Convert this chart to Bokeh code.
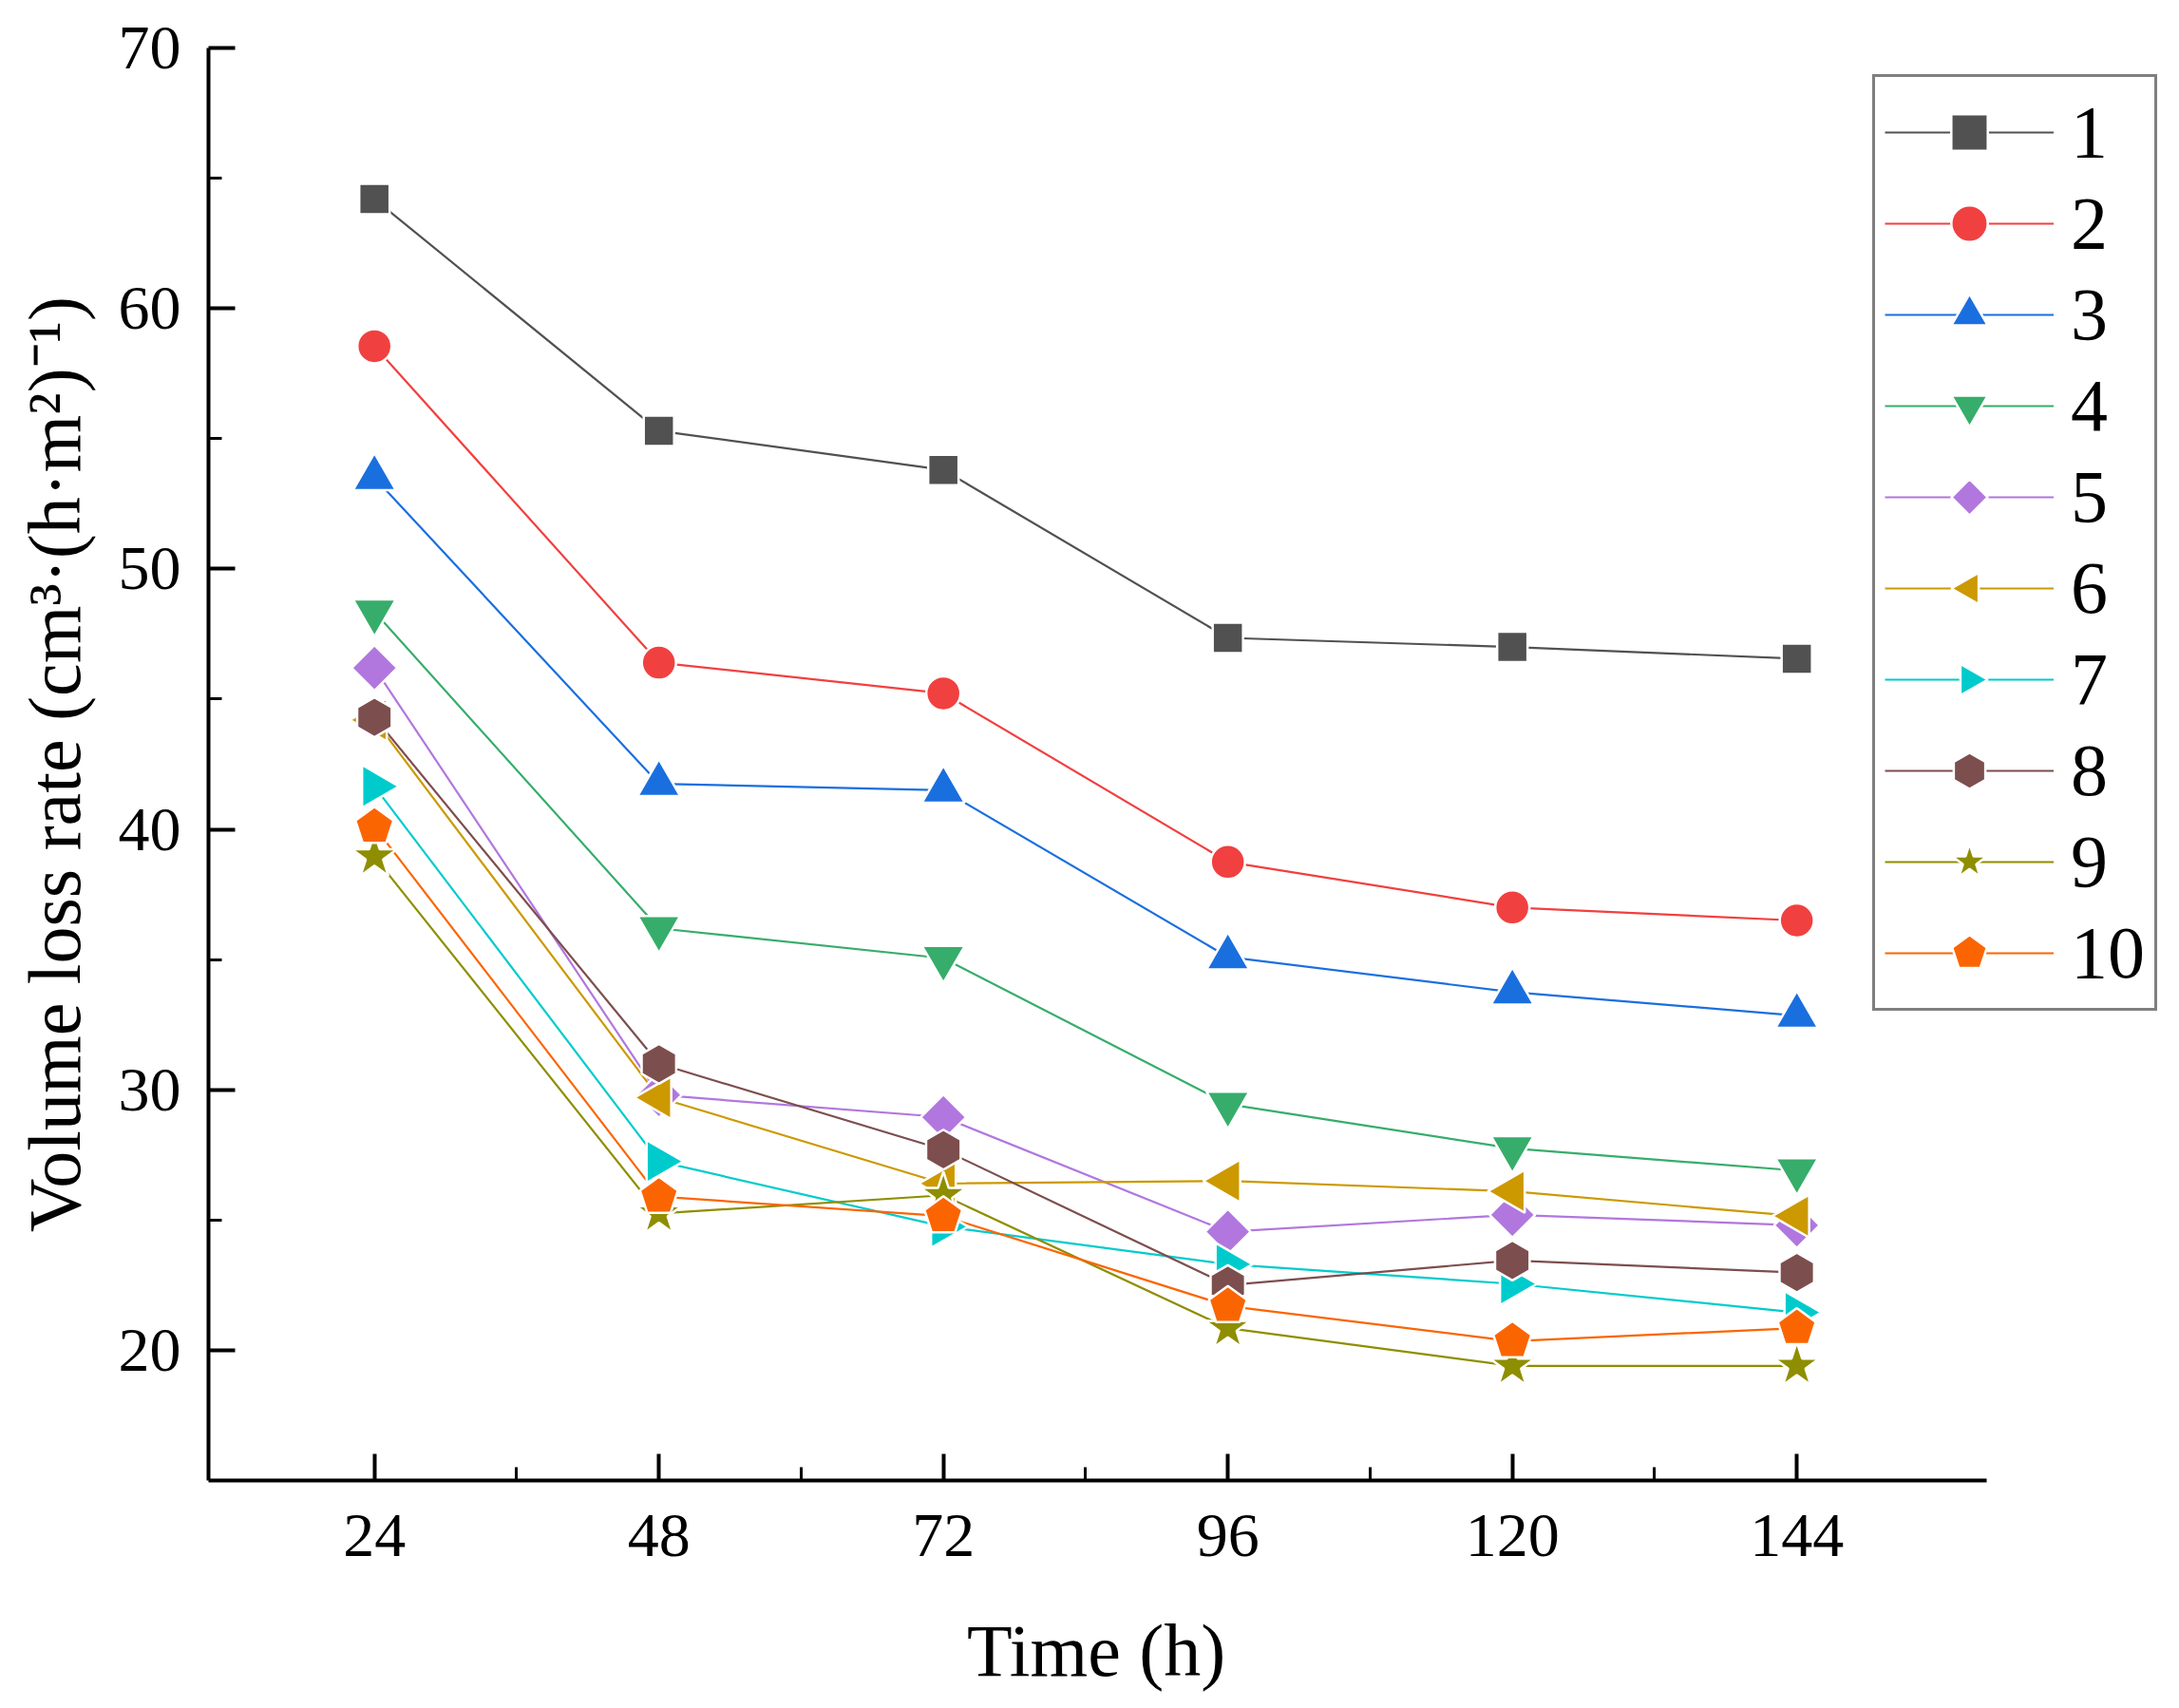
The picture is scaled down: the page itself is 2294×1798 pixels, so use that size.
import math
from bokeh.plotting import figure
from bokeh.models import Range1d, FixedTicker, Title
from bokeh.embed import file_html
from bokeh.resources import INLINE

# ---- data ----
time_h = [24, 48, 72, 96, 120, 144]
s1 = [64.2, 55.3, 53.8, 47.35, 47.0, 46.55]
s2 = [58.55, 46.4, 45.22, 38.75, 37.0, 36.5]
s3 = [53.5, 41.75, 41.5, 35.1, 33.75, 32.85]
s4 = [48.35, 36.2, 35.05, 29.45, 27.75, 26.9]
s5 = [46.2, 29.8, 28.95, 24.55, 25.2, 24.8]
s6 = [44.2, 29.7, 26.4, 26.5, 26.1, 25.15]
s7 = [41.65, 27.25, 24.75, 23.3, 22.55, 21.45]
s8 = [44.3, 31.0, 27.7, 22.5, 23.45, 22.98]
s9 = [38.95, 25.25, 25.95, 20.85, 19.4, 19.4]
s10 = [40.1, 25.9, 25.15, 21.7, 20.35, 20.85]
series = [s1, s2, s3, s4, s5, s6, s7, s8, s9, s10]
labels = ["1", "2", "3", "4", "5", "6", "7", "8", "9", "10"]
x_ticks = [24, 48, 72, 96, 120, 144]
x_minor = [36, 60, 84, 108, 132]
y_ticks = [20, 30, 40, 50, 60, 70]
y_minor = [25, 35, 45, 55, 65]
x_axis_title = "Time (h)"
y_axis_title = "Volume loss rate (cm\u00b3\u00b7(h\u00b7m\u00b2)\u207b\u00b9)"

colors = ["#515151", "#F14040", "#1A6FDF", "#37AD6B", "#B177DE",
          "#CC9900", "#00CBCC", "#7D4E4E", "#8E8E00", "#FB6501"]
# scatter markers: (kind, marker, size) ; polygons: (kind, n_sides, radius, angle)
markers = [("scatter", "square", 32), ("scatter", "circle", 36),
           ("scatter", "triangle", 45), ("scatter", "inverted_triangle", 45),
           ("ngon", 4, 24, 0.0), ("ngon", 3, 26, math.pi / 2),
           ("ngon", 3, 26, -math.pi / 2), ("ngon", 6, 21, 0.0),
           ("scatter", "star", 50), ("ngon", 5, 21, 0.0)]

FONT = "Liberation Serif"
X0, X1, XPAD = 10, 160, 15

p = figure(width=2278, height=1782, output_backend="svg", toolbar_location=None,
           x_range=Range1d(X0, X1 + XPAD), y_range=Range1d(15, 70),
           min_border_left=219, min_border_right=0,
           min_border_top=50, min_border_bottom=224)
p.outline_line_color = None
p.xgrid.visible = False
p.ygrid.visible = False
p.background_fill_color = "white"

p.xaxis.ticker = FixedTicker(ticks=x_ticks, minor_ticks=x_minor)
p.yaxis.ticker = FixedTicker(ticks=y_ticks, minor_ticks=y_minor)
p.xaxis.bounds = (X0, X1)
p.yaxis.axis_label = y_axis_title

for ax in (p.xaxis[0], p.yaxis[0]):
    ax.axis_line_width = 4
    ax.axis_line_color = "black"
    ax.major_tick_line_width = 4
    ax.minor_tick_line_width = 3
    ax.major_tick_line_color = "black"
    ax.minor_tick_line_color = "black"
    ax.major_tick_in = 28
    ax.major_tick_out = 0
    ax.minor_tick_in = 14
    ax.minor_tick_out = 0
    ax.major_label_text_font = FONT
    ax.major_label_text_font_size = "66px"
    ax.major_label_text_color = "black"
    ax.axis_label_text_font = FONT
    ax.axis_label_text_font_size = "78px"
    ax.axis_label_text_font_style = "normal"
    ax.axis_label_text_color = "black"

p.yaxis.major_label_standoff = 29
p.yaxis.axis_label_standoff = 21
p.xaxis.major_label_standoff = 36
# tiny blank spacer below the tick labels, so the title sits lower
p.xaxis.axis_label = "\u00a0"
p.xaxis.axis_label_text_font_size = "1px"
p.xaxis.axis_label_standoff = 45

# x-axis title centred under the bounded axis (frame extends right for the legend)
frame_w = 2278 - 219
axis_mid_px = (X0 + X1) / 2.0 - X0
axis_mid_px = axis_mid_px * frame_w / (X1 + XPAD - X0)
title_w = 275
xt = Title(text=x_axis_title, align="left", offset=axis_mid_px - title_w / 2.0,
           text_font=FONT, text_font_size="78px", text_font_style="normal",
           text_color="black", standoff=4)
p.add_layout(xt, "below")

# lines first
for ys, c, lab in zip(series, colors, labels):
    p.line(time_h, ys, line_color=c, line_width=2.2, legend_label=lab)

# markers on top
for ys, c, lab, mk in zip(series, colors, labels, markers):
    if mk[0] == "ngon":
        _, nsides, rad, ang = mk
        p.ngon(x=time_h, y=ys, radius=rad, radius_units="screen", n=nsides,
               angle=ang, fill_color=c, line_color="white",
               line_width=2.5, legend_label=lab)
    else:
        _, name, sz = mk
        p.scatter(time_h, ys, marker=name, size=sz, fill_color=c,
                  line_color="white", line_width=2.5, legend_label=lab)

lg = p.legend[0]
lg.location = (1752, 494)
lg.margin = 0
lg.padding = 10
lg.spacing = 0
lg.glyph_width = 178
lg.glyph_height = 96
lg.label_standoff = 18
lg.label_text_font = FONT
lg.label_text_font_size = "78px"
lg.label_text_color = "black"
lg.border_line_color = "black"
lg.border_line_width = 3
lg.background_fill_color = "white"
lg.background_fill_alpha = 1.0

open("out.html", "w").write(file_html(p, INLINE))
